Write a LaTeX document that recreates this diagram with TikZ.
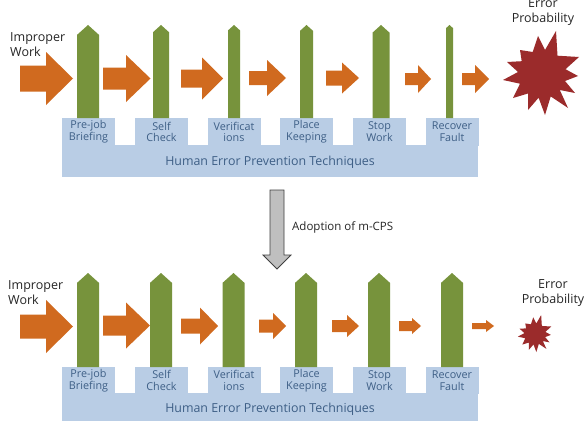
\documentclass[tikz,border=0pt]{standalone}
\usepackage{fontspec}
\setmainfont{Open Sans}
\definecolor{orangefill}{HTML}{D06A1F}
\definecolor{greenfill}{HTML}{77933C}
\definecolor{bluefill}{HTML}{B9CDE5}
\definecolor{starfill}{HTML}{9B2B2B}
\definecolor{tabtext}{HTML}{3E5F86}
\definecolor{darktext}{HTML}{262626}
\newcommand{\oarr}[6]{\fill[orangefill] (#1,#4-#5) -- (#2,#4-#5) -- (#2,#4-#6) -- (#3,#4) -- (#2,#4+#6) -- (#2,#4+#5) -- (#1,#4+#5) -- cycle;}
\newcommand{\gbar}[4]{\fill[greenfill] (#1-#2/2,#4) -- (#1-#2/2,#3+#2*0.45) -- (#1,#3) -- (#1+#2/2,#3+#2*0.45) -- (#1+#2/2,#4) -- cycle;}
\begin{document}
\begin{tikzpicture}[x=1pt,y=-1pt,
  tablabel/.style={font=\fontsize{10.8}{11.8}\selectfont, text=tabtext, align=center, inner sep=0pt},
  baselabel/.style={font=\fontsize{12.4}{14}\selectfont, text=tabtext, inner sep=0pt},
  mainlabel/.style={font=\fontsize{12.5}{15}\selectfont, text=darktext, align=left, inner sep=0pt},
  errlabel/.style={font=\fontsize{12.5}{15}\selectfont, text=darktext, align=center, inner sep=0pt}]
\useasboundingbox (0,0) rectangle (585,420);
\fill[white] (0,0) rectangle (585,420);

% ---------- TOP ----------
\fill[bluefill] (62,145) rectangle (478,177);
\foreach \x in {62,135,207.5,280,353,425.5} {\fill[bluefill] (\x,118) rectangle (\x+53,145.5);}
\gbar{88}{22}{25}{118}
\gbar{161}{16}{25}{118}
\gbar{234}{12}{25}{118}
\gbar{306.5}{13}{25}{118}
\gbar{381}{17}{25}{118}
\gbar{449.5}{7}{25}{118}
\oarr{20}{46}{73}{78.5}{13}{26.5}
\oarr{103}{126}{150.5}{78.5}{11}{23.5}
\oarr{181}{202}{223}{78.5}{9}{21}
\oarr{249}{267}{286}{78}{7}{18}
\oarr{326}{342}{359}{78}{7.5}{15.5}
\oarr{405}{418}{431}{79}{6}{14}
\oarr{462}{475}{489}{79}{6}{14}
\fill[starfill] (542,74)
  +(-4,-38) -- +(3,-24) -- +(14,-43) -- +(15.5,-18.3) -- +(37,-17) -- +(23.5,-4.8)
  -- +(36,2) -- +(23,7) -- +(33,19) -- +(17.8,16) -- +(26,34) -- +(8.7,22.4)
  -- +(3,41) -- +(-3.4,23.7) -- +(-14,36) -- +(-14,19.5) -- +(-29,24) -- +(-22,9.7)
  -- +(-39,6) -- +(-24,-2) -- +(-35,-12) -- +(-20.3,-12.8) -- +(-22,-24) -- +(-9.3,-22) -- cycle;

\node[mainlabel, anchor=west] (imp1) at (10,44.5) {Improper\\Work};
\node[errlabel] (err1) at (543,12.5) {Error\\Probability};
\node[tablabel] (t11) at (88.5,132) {Pre-job\\Briefing};
\node[tablabel] (t12) at (161.5,132) {Self\\Check};
\node[tablabel] (t13) at (234,132) {Verificat\\ions};
\node[tablabel] (t14) at (306.5,132) {Place\\Keeping};
\node[tablabel] (t15) at (379.5,132) {Stop\\Work};
\node[tablabel] (t16) at (452,132) {Recover\\Fault};
\node[baselabel] (hep1) at (270,162) {Human Error Prevention Techniques};

% ---------- middle arrow ----------
\draw[line width=0.8pt, draw=black!75, fill=gray!50, line join=miter]
  (270,190) -- (284,190) -- (284,255) -- (291,255) -- (277,269) -- (263,255) -- (270,255) -- cycle;
\node[mainlabel, anchor=west, font=\fontsize{11.5}{14}\selectfont] (adopt) at (292,227) {Adoption of m-CPS};

% ---------- BOTTOM ----------
\fill[bluefill] (62,393) rectangle (478,425);
\foreach \x in {62,135,207.5,280,353,425.5} {\fill[bluefill] (\x,367) rectangle (\x+53,393.5);}
\gbar{88}{22}{273}{367}
\gbar{161}{22}{273}{367}
\gbar{233.5}{22}{273}{367}
\gbar{306}{22}{273}{367}
\gbar{379}{22}{273}{367}
\gbar{452}{22}{273}{367}
\oarr{20}{46}{73}{326.5}{12}{26.5}
\oarr{103}{126}{150}{325.5}{10}{23}
\oarr{181}{200}{218}{326}{7.5}{18.5}
\oarr{259}{273}{286}{326}{6.5}{13}
\oarr{332}{347}{359}{326}{6}{11}
\oarr{399}{412}{421}{326}{5}{8}
\oarr{472}{486}{494}{326}{3}{6}
\begin{scope}[shift={(535,334)}, scale=0.44]
\fill[starfill] (0,0)
  +(-4,-38) -- +(3,-24) -- +(14,-43) -- +(15.5,-18.3) -- +(37,-17) -- +(23.5,-4.8)
  -- +(36,2) -- +(23,7) -- +(33,19) -- +(17.8,16) -- +(26,34) -- +(8.7,22.4)
  -- +(3,41) -- +(-3.4,23.7) -- +(-14,36) -- +(-14,19.5) -- +(-29,24) -- +(-22,9.7)
  -- +(-39,6) -- +(-24,-2) -- +(-35,-12) -- +(-20.3,-12.8) -- +(-22,-24) -- +(-9.3,-22) -- cycle;
\end{scope}

\node[mainlabel, anchor=west] (imp2) at (8,293) {Improper\\Work};
\node[errlabel] (err2) at (553,293.5) {Error\\Probability};
\node[tablabel] (t21) at (88.5,380.5) {Pre-job\\Briefing};
\node[tablabel] (t22) at (161.5,380.5) {Self\\Check};
\node[tablabel] (t23) at (234,380.5) {Verificat\\ions};
\node[tablabel] (t24) at (306.5,380.5) {Place\\Keeping};
\node[tablabel] (t25) at (379.5,380.5) {Stop\\Work};
\node[tablabel] (t26) at (452,380.5) {Recover\\Fault};
\node[baselabel] (hep2) at (270,409) {Human Error Prevention Techniques};
\end{tikzpicture}
\end{document}
